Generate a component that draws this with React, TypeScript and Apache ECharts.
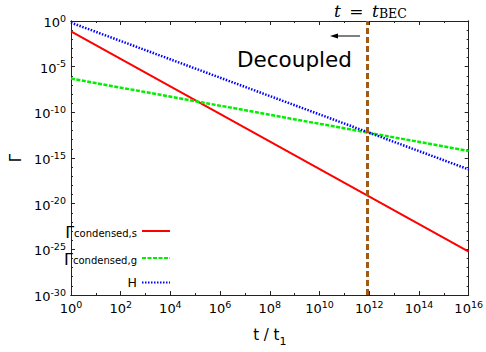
import React, { useEffect, useRef } from 'react';
import * as echarts from 'echarts';

// ---- data ----
const tPoints = [1, 1e16];
const gammaCondensedS = [7.2e-2, 5.5e-26];
const gammaCondensedG = [5.0e-7, 5.9e-15];
const hubbleRate = [6.6e-1, 5.6e-17];
const tBEC = 8.3e11;
const seriesNames = ['Γcondensed,s', 'Γcondensed,g', 'H'];
const legendLabels = ['{g|Γ}{sub|condensed,s}', '{g|Γ}{sub|condensed,g}', '{h|H}'];
const seriesColors = ['#ff0000', '#00ee00', '#0000ff'];
// axis ranges (decades, log10 scale)
const xDecades = [0, 16];
const yDecades = [-30, 0];

const AXIS_COLOR = '#222';
const FONT = 'DejaVu Sans';
const log10 = (v: number) => Math.log10(v);

function expLabel(value: number) {
  return '{b|10}{s|' + Math.round(value) + '}';
}

const labelRich = {
  b: { fontSize: 13, lineHeight: 16, verticalAlign: 'bottom', fontFamily: FONT, color: '#000' },
  s: { fontSize: 9.5, lineHeight: 8, verticalAlign: 'top', fontFamily: FONT, color: '#000' },
};

function makeAxis(dim: 'x' | 'y', position: string, interval: number, tickLen: number, labels: boolean, extra: any = {}) {
  const range = dim === 'x' ? xDecades : yDecades;
  return {
    type: 'value',
    min: range[0],
    max: range[1],
    interval,
    position,
    axisLine: { show: true, onZero: false, lineStyle: { color: AXIS_COLOR, width: 1 } },
    axisTick: { show: true, inside: true, length: tickLen, lineStyle: { color: AXIS_COLOR, width: 1 } },
    axisLabel: labels
      ? { show: true, formatter: expLabel, rich: labelRich, margin: dim === 'x' ? 4 : 5, showMinLabel: true, showMaxLabel: true }
      : { show: false },
    splitLine: { show: false },
    minorTick: { show: false },
    ...extra,
  };
}

function toLogPoints(ts: number[], vs: number[]) {
  return ts.map((t, i) => [log10(t), log10(vs[i])]);
}

export default function App() {
  const ref = useRef<HTMLDivElement>(null);
  useEffect(() => {
    if (!ref.current) return;
    const chart = echarts.init(ref.current, null, { renderer: 'svg' });
    chart.setOption({
      animation: false,
      textStyle: { fontFamily: FONT },
      grid: { left: 61, top: 21, right: 13, bottom: 50, containLabel: false },
      xAxis: [
        makeAxis('x', 'bottom', 2, 4, true, {
          name: '{a|t / t}{sub|1}',
          nameLocation: 'middle',
          nameGap: 32,
          nameTextStyle: {
            rich: {
              a: { fontSize: 15, fontFamily: FONT, color: '#000', lineHeight: 20, verticalAlign: 'top' },
              sub: { fontSize: 11, fontFamily: FONT, color: '#000', lineHeight: 12, verticalAlign: 'bottom' },
            },
          },
        }),
        makeAxis('x', 'bottom', 1, 2, false),
        makeAxis('x', 'top', 2, 4, false),
        makeAxis('x', 'top', 1, 2, false),
      ],
      yAxis: [
        makeAxis('y', 'left', 5, 4, true, {
          name: 'Γ',
          nameLocation: 'middle',
          nameGap: 47,
          nameRotate: 90,
          nameTextStyle: { fontSize: 15, fontFamily: FONT, color: '#000' },
        }),
        makeAxis('y', 'left', 1, 2, false),
        makeAxis('y', 'right', 5, 4, false),
        makeAxis('y', 'right', 1, 2, false),
      ],
      legend: {
        orient: 'vertical',
        align: 'right',
        right: 315,
        top: 222,
        padding: 0,
        itemWidth: 28,
        itemHeight: 10,
        itemGap: 9,
        data: seriesNames,
        itemStyle: { opacity: 0 },
        formatter: (name: string) => legendLabels[seriesNames.indexOf(name)],
        textStyle: {
          rich: {
            g: { fontSize: 16, fontFamily: FONT, color: '#000', lineHeight: 14, verticalAlign: 'top' },
            sub: { fontSize: 10, fontFamily: FONT, color: '#000', lineHeight: 12, padding: [6, 0, 0, 0], verticalAlign: 'bottom' },
            h: { fontSize: 12.5, fontFamily: FONT, color: '#000', lineHeight: 18 },
          },
        },
      },
      series: [
        {
          name: seriesNames[0],
          type: 'line',
          data: toLogPoints(tPoints, gammaCondensedS),
          showSymbol: false,
          symbol: 'none',
          lineStyle: { color: seriesColors[0], width: 2 },
          itemStyle: { color: seriesColors[0] },
          markLine: {
            silent: true,
            symbol: ['none', 'none'],
            label: { show: false },
            lineStyle: { color: '#a05a14', width: 3, type: [6, 3] },
            data: [{ xAxis: log10(tBEC) }],
          },
          z: 3,
        },
        {
          name: seriesNames[1],
          type: 'line',
          data: toLogPoints(tPoints, gammaCondensedG),
          showSymbol: false,
          symbol: 'none',
          lineStyle: { color: seriesColors[1], width: 2.5, type: [4, 1.5] },
          itemStyle: { color: seriesColors[1] },
          z: 3,
        },
        {
          name: seriesNames[2],
          type: 'line',
          data: toLogPoints(tPoints, hubbleRate),
          showSymbol: false,
          symbol: 'none',
          lineStyle: { color: seriesColors[2], width: 2.5, type: [1.5, 1.5] },
          itemStyle: { color: seriesColors[2] },
          z: 3,
        },
      ],
      graphic: [
        {
          type: 'text',
          left: 334,
          top: 2,
          style: {
            text: '{i|t\u2002=\u2002t}{sub|BEC}',
            rich: {
              i: { fontSize: 17, fontFamily: 'DejaVu Serif', fontStyle: 'italic', color: '#000', lineHeight: 18, verticalAlign: 'top' },
              sub: { fontSize: 12.5, fontFamily: 'DejaVu Serif', color: '#000', lineHeight: 12, verticalAlign: 'bottom' },
            },
          },
        },
        {
          type: 'text',
          left: 237,
          top: 48,
          style: { text: 'Decoupled', fontSize: 21.5, fontFamily: FONT, fill: '#000' },
        },
        {
          type: 'line',
          shape: { x1: 336, y1: 36, x2: 360, y2: 36 },
          style: { stroke: '#000', lineWidth: 1 },
        },
        {
          type: 'polygon',
          shape: { points: [[330, 36], [338, 33.5], [338, 38.5]] },
          style: { fill: '#000' },
        },
      ],
    });
    return () => chart.dispose();
  }, []);
  return <div ref={ref} style={{ width: 486, height: 352, position: 'absolute', left: 0, top: 0 }} />;
}
